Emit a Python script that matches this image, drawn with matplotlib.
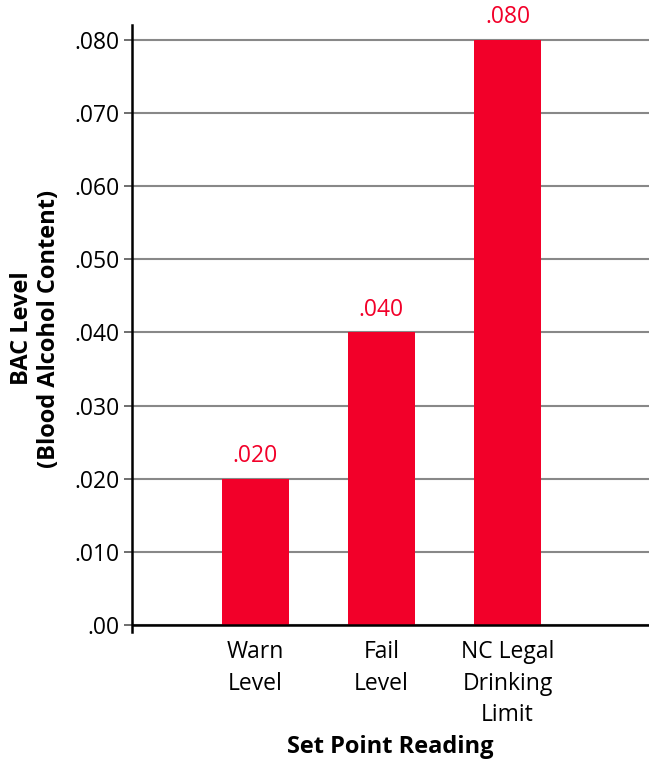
import matplotlib
matplotlib.use("Agg")
import matplotlib.pyplot as plt

# data
categories = ["Warn\nLevel", "Fail\nLevel", "NC Legal\nDrinking\nLimit"]
bac_values = [0.020, 0.040, 0.080]
value_labels = [".020", ".040", ".080"]
y_ticks = [0.0, 0.01, 0.02, 0.03, 0.04, 0.05, 0.06, 0.07, 0.08]
y_tick_labels = [".00", ".010", ".020", ".030", ".040", ".050", ".060", ".070", ".080"]

red = "#F20029"
plt.rcParams["font.family"] = ["Open Sans", "DejaVu Sans"]

fig = plt.figure(figsize=(6.49, 7.61), dpi=100)
ax = fig.add_axes([0.204, 0.1695, 0.796, 0.7977])

x = range(len(categories))
ax.bar(x, bac_values, width=0.53, color=red, zorder=3)

for xi, v, lab in zip(x, bac_values, value_labels):
    ax.text(xi, v + 0.0015, lab, ha="center", va="bottom", color=red, fontsize=16.5)

ax.set_xlim(-0.976, 3.123)
ax.set_ylim(-0.00096, 0.08205)
ax.set_yticks(y_ticks)
ax.set_yticklabels(y_tick_labels, fontsize=16.5)
ax.set_xticks(list(x))
ax.set_xticklabels(categories, fontsize=16.5, linespacing=1.4)
ax.tick_params(axis="x", length=0, pad=6)
ax.tick_params(axis="y", length=6, width=1.2, color="#555555", pad=3)

ax.grid(axis="y", color="#888888", linewidth=1.5, zorder=1)
ax.axhline(0, color="black", linewidth=1.8, zorder=4)

for s in ["top", "right", "bottom"]:
    ax.spines[s].set_visible(False)
ax.spines["left"].set_linewidth(1.8)

ax.set_ylabel("BAC Level\n(Blood Alcohol Content)", fontsize=17, fontweight="bold",
              linespacing=1.15, labelpad=10)
ax.set_xlabel("Set Point Reading", fontsize=17, fontweight="bold", labelpad=6)

fig.savefig("out.png", dpi=100)
